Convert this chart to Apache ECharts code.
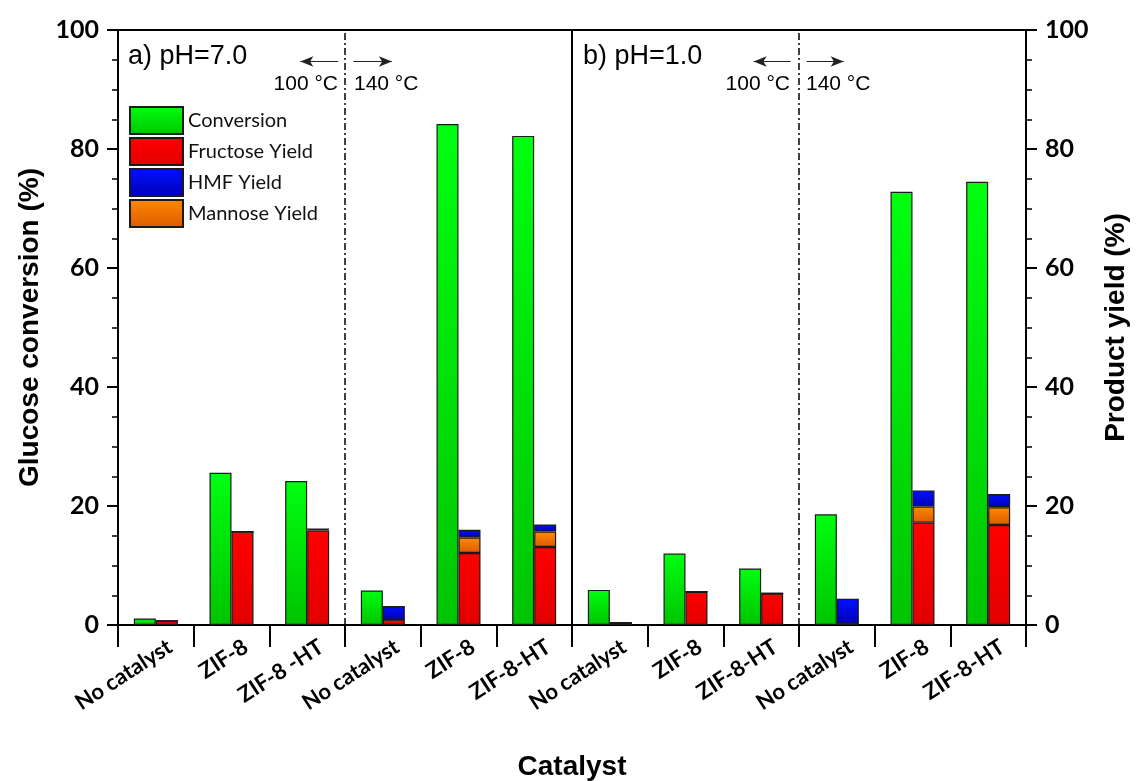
<!DOCTYPE html>
<html>
<head>
<meta charset="utf-8">
<script src="https://cdn.jsdelivr.net/npm/echarts@6/dist/echarts.min.js"></script>
</head>
<body style="margin:0;background:#fff">
<div id="container" style="width:1137px;height:781px;"></div>
<script>
// values (same 0-100 scale on both axes)
var catalysts = ['No catalyst', 'ZIF-8', 'ZIF-8 -HT', 'No catalyst', 'ZIF-8', 'ZIF-8-HT',
                 'No catalyst', 'ZIF-8', 'ZIF-8-HT', 'No catalyst', 'ZIF-8', 'ZIF-8-HT'];
var conversion = [1.1, 25.6, 24.2, 5.8, 84.2, 82.2, 5.9, 12.0, 9.5, 18.6, 72.8, 74.5];
var fructose   = [0.7, 15.7, 15.9, 0.9, 12.1, 13.1, 0.4, 5.6, 5.3, 0.2, 17.2, 16.8];
var mannose    = [0, 0, 0.2, 0, 2.6, 2.6, 0, 0, 0, 0, 2.7, 3.0];
var hmf        = [0, 0, 0, 2.3, 1.3, 1.2, 0, 0, 0, 4.2, 2.7, 2.2];
var dividers   = [3, 6, 9];

var dom = document.getElementById('container');
var myChart = echarts.init(dom);

function grad(top, bottom) {
    return {
        type: 'linear', x: 0, y: 0, x2: 0, y2: 1,
        colorStops: [{ offset: 0, color: top }, { offset: 1, color: bottom }]
    };
}

var barBorder = { borderColor: '#1a1a1a', borderWidth: 1.2 };
var tickFont = { fontFamily: 'Lato, "Open Sans"', fontWeight: 'bold', fontSize: 25, color: '#000' };

function yAxisDef(pos, name, gap) {
    return {
        type: 'value', position: pos, min: 0, max: 100, interval: 20,
        name: name, nameLocation: 'middle', nameGap: gap,
        nameTextStyle: { fontFamily: 'Arial, "Liberation Sans"', fontWeight: 'bold', fontSize: 28, color: '#000' },
        axisLine: { show: true, lineStyle: { color: '#000', width: 2 } },
        axisTick: { show: true, inside: false, length: 11, lineStyle: { color: '#000', width: 2 } },
        minorTick: { show: true, splitNumber: 4, length: 6, lineStyle: { color: '#000', width: 1.5 } },
        axisLabel: Object.assign({ margin: 19 }, tickFont),
        splitLine: { show: false }
    };
}

var option = {
    animation: false,
    backgroundColor: '#fff',
    grid: {
        left: 118, right: 111, top: 30, bottom: 156,
        outerBoundsMode: 'none', containLabel: false,
        show: true, borderColor: '#000', borderWidth: 2
    },
    legend: {
        orient: 'vertical', left: 124, top: 101,
        itemWidth: 53, itemHeight: 27, itemGap: 2,
        icon: 'rect',
        data: ['Conversion', 'Fructose Yield', 'HMF Yield', 'Mannose Yield'],
        textStyle: { fontFamily: 'Lato, "Open Sans"', fontSize: 20, color: '#111' }
    },
    xAxis: [{
        type: 'category', data: catalysts,
        name: 'Catalyst', nameLocation: 'middle', nameGap: 128,
        nameTextStyle: { fontFamily: 'Arial, "Liberation Sans"', fontWeight: 'bold', fontSize: 28, color: '#000' },
        axisLine: { lineStyle: { color: '#000', width: 2 } },
        axisTick: { show: true, length: 22, lineStyle: { color: '#000', width: 2 } },
        axisLabel: {
            rotate: 33, margin: 29, interval: 0, padding: [0, -17, 0, 0],
            fontFamily: 'Lato, "Open Sans"', fontWeight: 'bold', fontSize: 22, color: '#000'
        }
    }, {
        type: 'value', min: 0, max: 12, show: false
    }],
    yAxis: [
        yAxisDef('left', 'Glucose conversion (%)', 74),
        yAxisDef('right', 'Product yield (%)', 76)
    ],
    series: [
        {
            name: 'Conversion', type: 'bar', stack: 'conv', data: conversion,
            barWidth: 22, barGap: '0%',
            itemStyle: Object.assign({ color: grad('#00ff10', '#00c400') }, barBorder)
        },
        {
            name: 'Fructose Yield', type: 'bar', stack: 'yield', data: fructose,
            barWidth: 22,
            itemStyle: Object.assign({ color: grad('#ff0000', '#e20000') }, barBorder)
        },
        {
            name: 'Mannose Yield', type: 'bar', stack: 'yield', data: mannose,
            barWidth: 22,
            itemStyle: Object.assign({ color: grad('#ff8a00', '#dc5a00') }, barBorder)
        },
        {
            name: 'HMF Yield', type: 'bar', stack: 'yield', data: hmf,
            barWidth: 22,
            itemStyle: Object.assign({ color: grad('#0010ff', '#0000b8') }, barBorder)
        },
        {
            // section dividers
            type: 'line', xAxisIndex: 1, yAxisIndex: 0, data: [], silent: true,
            markLine: {
                silent: true, symbol: 'none', label: { show: false },
                data: dividers.map(function (d) {
                    return d === 6
                        ? { xAxis: d, lineStyle: { color: '#000', width: 2, type: 'solid' } }
                        : { xAxis: d, lineStyle: { color: '#000', width: 1.5, type: [7, 3, 2, 3] } };
                })
            }
        },
        {
            // temperature arrows
            type: 'line', xAxisIndex: 1, yAxisIndex: 0, data: [], silent: true,
            markLine: {
                silent: true, symbol: ['none', 'arrow'], symbolSize: [8, 13], label: { show: false },
                lineStyle: { color: '#222', width: 1.2, type: 'solid' },
                data: [
                    [{ coord: [2.91, 94.7] }, { coord: [2.41, 94.7] }],
                    [{ coord: [3.11, 94.7] }, { coord: [3.62, 94.7] }],
                    [{ coord: [8.89, 94.7] }, { coord: [8.40, 94.7] }],
                    [{ coord: [9.10, 94.7] }, { coord: [9.59, 94.7] }]
                ]
            }
        }
    ],
    graphic: [
        { type: 'text', left: 128, top: 43, style: { text: 'a) pH=7.0', font: '27px Arial, "Liberation Sans"', fill: '#000' } },
        { type: 'text', left: 583, top: 43, style: { text: 'b) pH=1.0', font: '27px Arial, "Liberation Sans"', fill: '#000' } },
        { type: 'text', right: 1137 - 338, top: 74, style: { text: '100 °C', font: '21px Arial, "Liberation Sans"', fill: '#000' } },
        { type: 'text', left: 354, top: 74, style: { text: '140 °C', font: '21px Arial, "Liberation Sans"', fill: '#000' } },
        { type: 'text', right: 1137 - 790, top: 74, style: { text: '100 °C', font: '21px Arial, "Liberation Sans"', fill: '#000' } },
        { type: 'text', left: 806, top: 74, style: { text: '140 °C', font: '21px Arial, "Liberation Sans"', fill: '#000' } }
    ]
};

myChart.setOption(option);
</script>
</body>
</html>
